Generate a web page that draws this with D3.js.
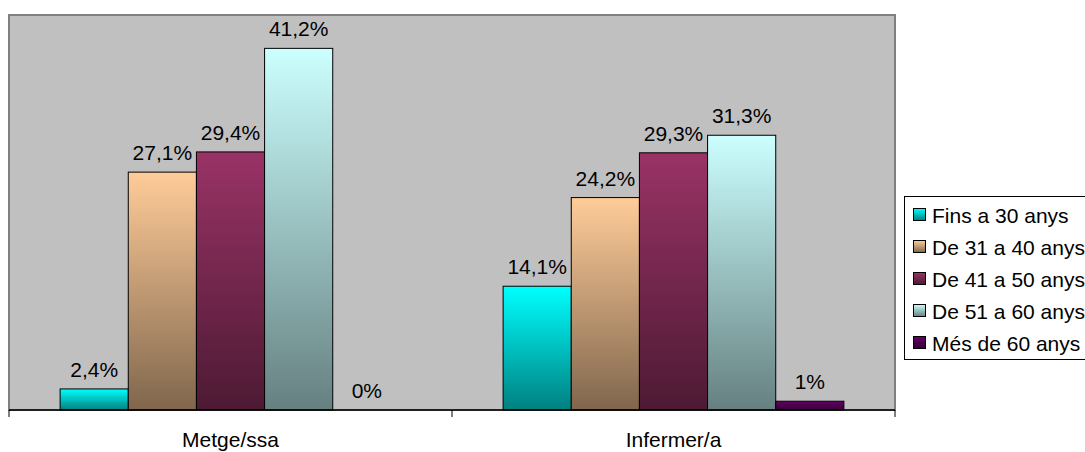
<!DOCTYPE html>
<html>
<head>
<meta charset="utf-8">
<script src="https://cdn.jsdelivr.net/npm/d3@7"></script>
<style>
  html, body { margin: 0; padding: 0; background: #ffffff; }
  svg { display: block; font-family: "Liberation Sans", Arial, sans-serif; }
</style>
</head>
<body>
<svg id="chart" width="1085" height="452"></svg>
<script>
// Professional groups on the x axis
const categories = ["Metge/ssa", "Infermer/a"];
// Age bands (one series each)
const seriesNames = ["Fins a 30 anys", "De 31 a 40 anys", "De 41 a 50 anys", "De 51 a 60 anys", "Més de 60 anys"];
// Percentages per age band, in category order
const fins30 = [2.4, 14.1];
const de31a40 = [27.1, 24.2];
const de41a50 = [29.4, 29.3];
const de51a60 = [41.2, 31.3];
const mesDe60 = [0, 1];
const seriesValues = [fins30, de31a40, de41a50, de51a60, mesDe60];
// Top colour of each bar's vertical shading
const seriesColors = ["#00FFFF", "#FFCC99", "#993366", "#CCFFFF", "#660066"];

const svg = d3.select("#chart");
const plot = { left: 9, top: 15, right: 895, bottom: 410 };

const x0 = d3.scaleBand().domain(categories).range([plot.left, plot.right]).padding(0);
const x1 = d3.scaleBand().domain(d3.range(seriesNames.length))
  .range([0, x0.bandwidth()]).paddingInner(0).paddingOuter(0.75);
const y = d3.scaleLinear().domain([0, 45]).range([plot.bottom, plot.top]);

const fmt = v => (Number.isInteger(v) ? String(v) : v.toFixed(1).replace(".", ",")) + "%";

// Gradients: full colour at the top, half brightness at the bottom
const defs = svg.append("defs");
seriesColors.forEach((c, i) => {
  const g = defs.append("linearGradient").attr("id", "grad" + i)
    .attr("x1", 0).attr("y1", 0).attr("x2", 0).attr("y2", 1);
  const top = d3.rgb(c);
  const bottom = d3.rgb(top.r * 0.5, top.g * 0.5, top.b * 0.5);
  g.append("stop").attr("offset", "0%").attr("stop-color", c);
  g.append("stop").attr("offset", "100%").attr("stop-color", bottom.formatHex());
});

// Plot area
svg.append("rect")
  .attr("x", plot.left).attr("y", plot.top)
  .attr("width", plot.right - plot.left).attr("height", plot.bottom - plot.top)
  .attr("fill", "#C0C0C0").attr("stroke", "#808080").attr("stroke-width", 2);

// Flatten into bar records
const bars = [];
categories.forEach((cat, ci) => {
  seriesValues.forEach((vals, si) => {
    bars.push({ cat, si, value: vals[ci] });
  });
});

const barG = svg.append("g");
barG.selectAll("rect").data(bars.filter(d => d.value > 0)).join("rect")
  .attr("x", d => x0(d.cat) + x1(d.si))
  .attr("y", d => y(d.value))
  .attr("width", x1.bandwidth())
  .attr("height", d => y(0) - y(d.value))
  .attr("fill", d => `url(#grad${d.si})`)
  .attr("stroke", "#000").attr("stroke-width", 1);

// Value labels
svg.append("g").selectAll("text").data(bars).join("text")
  .attr("x", d => x0(d.cat) + x1(d.si) + x1.bandwidth() / 2)
  .attr("y", d => y(d.value) - 12)
  .attr("text-anchor", "middle")
  .attr("font-size", 21)
  .attr("fill", "#000")
  .text(d => fmt(d.value));

// Category axis
const axisG = svg.append("g").attr("transform", `translate(0,${plot.bottom})`);
axisG.append("line")
  .attr("x1", plot.left).attr("x2", plot.right)
  .attr("y1", 0).attr("y2", 0)
  .attr("stroke", "#000").attr("stroke-width", 1.5);
const tickXs = [plot.left].concat(categories.map(c => x0(c) + x0.bandwidth()));
axisG.selectAll("line.tick").data(tickXs).join("line")
  .attr("class", "tick")
  .attr("x1", d => d).attr("x2", d => d)
  .attr("y1", 0).attr("y2", 7)
  .attr("stroke", "#000").attr("stroke-width", 1);
axisG.selectAll("text.cat").data(categories).join("text")
  .attr("class", "cat")
  .attr("x", d => x0(d) + x0.bandwidth() / 2)
  .attr("y", 37)
  .attr("text-anchor", "middle")
  .attr("font-size", 21)
  .attr("fill", "#000")
  .text(d => d);

// Legend
const legend = svg.append("g");
legend.append("rect")
  .attr("x", 904.5).attr("y", 196.5)
  .attr("width", 200).attr("height", 163)
  .attr("fill", "#fff").attr("stroke", "#000").attr("stroke-width", 1);
const rowY = d3.scalePoint().domain(d3.range(seriesNames.length)).range([215, 343]);
const items = legend.selectAll("g.item").data(seriesNames).join("g")
  .attr("class", "item")
  .attr("transform", (d, i) => `translate(0,${rowY(i)})`);
items.append("rect")
  .attr("x", 913.5).attr("y", -6.5)
  .attr("width", 12).attr("height", 12)
  .attr("fill", (d, i) => `url(#grad${i})`)
  .attr("stroke", "#000").attr("stroke-width", 1);
items.append("text")
  .attr("x", 932).attr("y", 7.5)
  .attr("font-size", 21)
  .attr("fill", "#000")
  .text(d => d);
</script>
</body>
</html>
